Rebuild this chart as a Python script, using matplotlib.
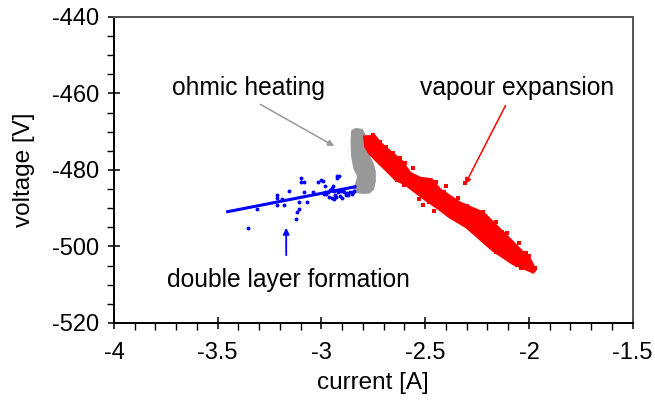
import numpy as np
import matplotlib.pyplot as plt
from matplotlib.ticker import MultipleLocator

plt.rcParams['font.family'] = ['Liberation Sans', 'DejaVu Sans']

# ---- dados ----
# camada dupla (pontos azuis)
blue_x = [-3.353, -3.310, -3.216, -3.213, -3.213, -3.192, -3.181, -3.157, -3.123, -3.117,
          -3.109, -3.107, -3.101, -3.099, -3.083, -3.086, -3.069, -3.040, -3.019, -3.000,
          -2.992, -2.984, -2.984, -2.976, -2.968, -2.960, -2.951, -2.944, -2.939, -2.935,
          -2.932, -2.927, -2.924, -2.916, -2.919, -2.911, -2.907, -2.895, -2.891, -2.884,
          -2.879, -2.871, -2.863, -2.855, -2.847, -2.842, -2.951, -2.940, -2.987, -2.964,
          -2.900]
blue_y = [-495.1, -490.3, -487.4, -486.5, -489.2, -487.7, -489.2, -485.5, -492.8, -491.1,
          -490.3, -488.5, -482.0, -483.1, -483.1, -485.8, -488.3, -485.8, -483.1, -482.6,
          -482.9, -484.1, -485.8, -486.4, -485.8, -485.2, -484.8, -484.1, -487.6, -486.5,
          -487.1, -482.2, -481.6, -481.5, -485.8, -486.7, -485.5, -485.2, -485.8, -486.5,
          -486.1, -486.5, -485.8, -486.4, -485.8, -485.5, -487.2, -485.5, -486.4, -487.0,
          -487.2]
# reta ajustada
fit_x = [-3.452, -2.839]
fit_y = [-490.9, -484.4]

# aquecimento ohmico (contorno da nuvem cinza)
gray_x = [-2.852, -2.835, -2.805, -2.791, -2.786, -2.770, -2.752, -2.743, -2.743, -2.752,
          -2.770, -2.800, -2.830, -2.842, -2.832, -2.823, -2.842, -2.852, -2.855]
gray_y = [-469.8, -469.3, -469.5, -471.0, -474.0, -476.5, -478.5, -480.5, -483.0, -485.0,
          -485.9, -486.0, -485.8, -484.8, -483.5, -481.7, -479.5, -476.5, -472.5]

# expansao do vapor (contorno da faixa vermelha)
red_x = [-2.791, -2.743, -2.719, -2.671, -2.614, -2.574, -2.526, -2.470, -2.430, -2.333,
         -2.221, -2.108, -1.996, -1.972, -1.980, -2.077, -2.173, -2.301, -2.382, -2.430,
         -2.494, -2.558, -2.598, -2.638, -2.686, -2.735, -2.767, -2.786]
red_y = [-471.4, -471.3, -473.0, -475.2, -477.8, -480.9, -482.2, -482.6, -485.2, -488.7,
         -491.3, -497.4, -503.5, -506.1, -506.6, -504.4, -500.9, -494.8, -492.2, -490.2,
         -487.8, -485.2, -483.5, -482.6, -480.0, -477.4, -475.6, -473.9]
# pontos soltos na borda da faixa
red_px = [-2.655, -2.598, -2.635, -2.510, -2.446, -2.342, -2.221, -2.349, -2.157, -2.060,
          -2.012, -2.108, -1.972, -2.719, -2.751, -2.309, -2.480, -2.270, -2.190, -2.040,
          -2.690, -2.620, -2.560, -2.530, -2.400, -2.370, -2.300, -2.250, -2.130, -2.080,
          -2.000, -2.600, -2.460, -2.410, -2.160, -2.050]
red_py = [-475.6, -478.2, -482.6, -489.2, -483.1, -487.4, -490.9, -493.1, -501.4, -504.8,
          -501.8, -496.5, -505.7, -472.6, -470.8, -483.5, -488.5, -495.5, -498.8, -505.5,
          -474.0, -476.8, -479.5, -487.6, -484.2, -491.6, -489.5, -493.2, -496.2, -502.8,
          -502.5, -484.0, -490.8, -485.8, -493.5, -499.0]

# ---- grafico ----
fig = plt.figure(figsize=(6.55, 4.05), dpi=100)
ax = fig.add_axes([0.174, 0.2025, 0.792, 0.7556])

ax.fill(gray_x, gray_y, color='#999999', lw=1.5, zorder=2)
ax.fill(red_x, red_y, color='#ff0000', lw=2.5, zorder=3)
ax.plot(red_px, red_py, 's', color='#ff0000', ms=2.6, mew=0, zorder=3)
ax.plot(blue_x, blue_y, 'o', color='#0000ff', ms=2.8, mew=0, zorder=4)
ax.plot(fit_x, fit_y, '-', color='#0000ff', lw=2.2, zorder=4)

ax.annotate('', xy=(-2.927, -474.1), xytext=(-3.306, -462.5),
            arrowprops=dict(arrowstyle='-|>', color='#999999', lw=1.1, mutation_scale=9))
ax.annotate('', xy=(-2.314, -484.4), xytext=(-2.107, -462.5),
            arrowprops=dict(arrowstyle='-|>', color='#ff0000', lw=1.1, mutation_scale=9))
ax.annotate('', xy=(-3.170, -494.4), xytext=(-3.170, -503.0),
            arrowprops=dict(arrowstyle='-|>', color='#0000ff', lw=1.3, mutation_scale=9))

ax.text(-3.721, -458.6, 'ohmic heating', fontsize=17.7, va='center', ha='left')
ax.text(-2.526, -458.6, 'vapour expansion', fontsize=17.7, va='center', ha='left')
ax.text(-3.745, -508.8, 'double layer formation', fontsize=17.7, va='center', ha='left')

ax.set_xlim(-4, -1.5)
ax.set_ylim(-520, -440)
ax.xaxis.set_major_locator(MultipleLocator(0.5))
ax.xaxis.set_minor_locator(MultipleLocator(0.1))
ax.yaxis.set_major_locator(MultipleLocator(20))
ax.yaxis.set_minor_locator(MultipleLocator(5))
ax.tick_params(which='major', direction='inout', length=9, width=1.1, labelsize=17)
ax.tick_params(axis='x', which='major', pad=9)
ax.tick_params(axis='y', which='major', pad=6)
ax.tick_params(which='minor', direction='out', length=5, width=1.0)
ax.xaxis.set_major_formatter(plt.FuncFormatter(lambda v, p: '%g' % v))
ax.yaxis.set_major_formatter(plt.FuncFormatter(lambda v, p: '%g' % v))

for lado in ['left', 'bottom']:
    ax.spines[lado].set_linewidth(1.4)
    ax.spines[lado].set_color('black')
for lado in ['top', 'right']:
    ax.spines[lado].set_linewidth(1.4)
    ax.spines[lado].set_color('#555555')

ax.set_xlabel('current [A]', fontsize=17.5, labelpad=6)
ax.set_ylabel('voltage [V]', fontsize=17.5, labelpad=12)

plt.savefig('out.png', dpi=100)
plt.close()
